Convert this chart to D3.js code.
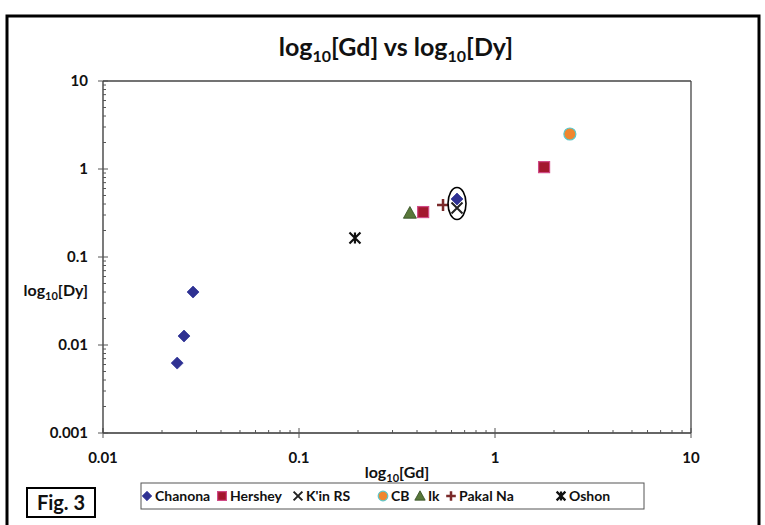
<!DOCTYPE html>
<html><head><meta charset="utf-8">
<script src="https://cdn.jsdelivr.net/npm/d3@7"></script>
<style>
html,body{margin:0;padding:0;background:#fff;}
svg{display:block;font-family:Lato,"Open Sans",sans-serif;}
</style></head>
<body>
<svg id="c" width="765" height="525"></svg>
<script>
// ---- data ----
const seriesNames = ["Chanona","Hershey","K'in RS","CB","Ik","Pakal Na","Oshon"];
const chanonaGd = [0.0288, 0.0259, 0.0239, 0.64];
const chanonaDy = [0.040, 0.01265, 0.00623, 0.456];
const hersheyGd = [0.43, 1.78];
const hersheyDy = [0.324, 1.05];
const kinGd = [0.64];
const kinDy = [0.36];
const cbGd = [2.41];
const cbDy = [2.5];
const ikGd = [0.368];
const ikDy = [0.316];
const pakalGd = [0.543];
const pakalDy = [0.39];
const oshonGd = [0.193];
const oshonDy = [0.164];
const xTickLabels = ["0.01","0.1","1","10"];
const yTickLabels = ["0.001","0.01","0.1","1","10"];

const series = [
  {name:"Chanona", gd:chanonaGd, dy:chanonaDy, shape:"diamond", fill:"#2f3192", stroke:"#3a3f9e"},
  {name:"Hershey", gd:hersheyGd, dy:hersheyDy, shape:"square", fill:"#a3172e", stroke:"#d04a86"},
  {name:"K'in RS", gd:kinGd, dy:kinDy, shape:"x", fill:"none", stroke:"#222"},
  {name:"CB", gd:cbGd, dy:cbDy, shape:"circle", fill:"#f0862e", stroke:"#5cc6c8"},
  {name:"Ik", gd:ikGd, dy:ikDy, shape:"triangle", fill:"#58773a", stroke:"#2f4a1e"},
  {name:"Pakal Na", gd:pakalGd, dy:pakalDy, shape:"plus", fill:"none", stroke:"#7a2a2a"},
  {name:"Oshon", gd:oshonGd, dy:oshonDy, shape:"star", fill:"none", stroke:"#111"}
];

const svg = d3.select("#c");
const x = d3.scaleLog().domain([0.01,10]).range([103,691]);
const y = d3.scaleLog().domain([0.001,10]).range([433,81]);

// outer frame
svg.append("rect").attr("x",7).attr("y",16).attr("width",752).attr("height",520)
  .attr("fill","none").attr("stroke","#000").attr("stroke-width",3);

// title
const title = svg.append("text").attr("x",396).attr("y",56).attr("text-anchor","middle")
  .attr("font-size",25).attr("font-weight","bold").attr("fill","#111");
title.append("tspan").text("log");
title.append("tspan").attr("font-size",16).attr("dy",6).text("10");
title.append("tspan").attr("dy",-6).text("[Gd] vs log");
title.append("tspan").attr("font-size",16).attr("dy",6).text("10");
title.append("tspan").attr("dy",-6).text("[Dy]");

// plot border (top & right)
const g = svg.append("g");
g.append("line").attr("x1",x(0.01)).attr("x2",x(10)).attr("y1",y(10)).attr("y2",y(10)).attr("stroke","#444").attr("stroke-width",1.3);
g.append("line").attr("x1",x(10)).attr("x2",x(10)).attr("y1",y(10)).attr("y2",y(0.001)).attr("stroke","#444").attr("stroke-width",1.3);

// x axis
const xt = x.ticks();
g.append("line").attr("x1",x(0.01)).attr("x2",x(10)).attr("y1",y(0.001)).attr("y2",y(0.001)).attr("stroke","#333").attr("stroke-width",1.3);
xt.forEach(t=>{
  const major = Math.abs(Math.log10(t)-Math.round(Math.log10(t)))<1e-9;
  g.append("line").attr("x1",x(t)).attr("x2",x(t))
   .attr("y1",y(0.001)-(major?5:3)).attr("y2",y(0.001)+(major?5:0))
   .attr("stroke","#555").attr("stroke-width",1);
});
xTickLabels.forEach(s=>{
  g.append("text").attr("x",x(+s)).attr("y",463).attr("text-anchor","middle")
   .attr("font-size",15).attr("font-weight","bold").attr("fill","#111").text(s);
});
// y axis
const yt = y.ticks();
g.append("line").attr("x1",x(0.01)).attr("x2",x(0.01)).attr("y1",y(10)).attr("y2",y(0.001)).attr("stroke","#333").attr("stroke-width",1.3);
yt.forEach(t=>{
  const major = Math.abs(Math.log10(t)-Math.round(Math.log10(t)))<1e-9;
  g.append("line").attr("y1",y(t)).attr("y2",y(t))
   .attr("x1",x(0.01)-(major?5:0)).attr("x2",x(0.01)+(major?5:3))
   .attr("stroke","#555").attr("stroke-width",1);
});
yTickLabels.forEach(s=>{
  g.append("text").attr("x",88).attr("y",y(+s)+5).attr("text-anchor","end")
   .attr("font-size",15).attr("font-weight","bold").attr("fill","#111").text(s);
});

// axis titles
const xtitle = svg.append("text").attr("x",397).attr("y",478).attr("text-anchor","middle")
  .attr("font-size",16).attr("font-weight","bold").attr("fill","#111");
xtitle.append("tspan").text("log");
xtitle.append("tspan").attr("font-size",11).attr("dy",4).text("10");
xtitle.append("tspan").attr("dy",-4).text("[Gd]");
const ytitle = svg.append("text").attr("x",88).attr("y",296).attr("text-anchor","end")
  .attr("font-size",16).attr("font-weight","bold").attr("fill","#111");
ytitle.append("tspan").text("log");
ytitle.append("tspan").attr("font-size",11).attr("dy",4).text("10");
ytitle.append("tspan").attr("dy",-4).text("[Dy]");

// markers
function drawMarker(sel, shape, cx, cy, s, fill, stroke, big){
  const k = big ? 1 : 0.8;
  if(shape==="diamond"){
    const r=6*k;
    sel.append("path").attr("d",`M${cx},${cy-r}L${cx+r},${cy}L${cx},${cy+r}L${cx-r},${cy}Z`).attr("fill",fill).attr("stroke",stroke).attr("stroke-width",0.8);
  } else if(shape==="square"){
    const r=5.5*k;
    sel.append("rect").attr("x",cx-r).attr("y",cy-r).attr("width",2*r).attr("height",2*r).attr("fill",fill).attr("stroke",stroke).attr("stroke-width",1.2);
  } else if(shape==="circle"){
    sel.append("circle").attr("cx",cx).attr("cy",cy).attr("r",6*k).attr("fill",fill).attr("stroke",stroke).attr("stroke-width",1.2);
  } else if(shape==="triangle"){
    const r=6.5*k;
    sel.append("path").attr("d",`M${cx},${cy-r}L${cx+r},${cy+r*0.8}L${cx-r},${cy+r*0.8}Z`).attr("fill",fill).attr("stroke",stroke).attr("stroke-width",0.8);
  } else if(shape==="x"){
    const r=5.5*k;
    sel.append("path").attr("d",`M${cx-r},${cy-r}L${cx+r},${cy+r}M${cx+r},${cy-r}L${cx-r},${cy+r}`).attr("stroke",stroke).attr("stroke-width",2);
  } else if(shape==="plus"){
    const r=6*k;
    sel.append("path").attr("d",`M${cx-r},${cy}L${cx+r},${cy}M${cx},${cy-r}L${cx},${cy+r}`).attr("stroke",stroke).attr("stroke-width",2.5);
  } else if(shape==="star"){
    const r=5.5*k;
    sel.append("path").attr("d",`M${cx-r},${cy-r}L${cx+r},${cy+r}M${cx+r},${cy-r}L${cx-r},${cy+r}M${cx},${cy-r}L${cx},${cy+r}`).attr("stroke",stroke).attr("stroke-width",2.2);
  }
}
const pts = svg.append("g");
series.forEach(s=>{
  s.gd.forEach((v,i)=>{
    drawMarker(pts, s.shape, x(v), y(s.dy[i]), 1, s.fill, s.stroke, true);
  });
});

// ellipse highlighting point
svg.append("ellipse").attr("cx",x(kinGd[0])).attr("cy",(y(kinDy[0])+y(chanonaDy[3]))/2)
  .attr("rx",9).attr("ry",16).attr("fill","none").attr("stroke","#000").attr("stroke-width",1.6);

// legend
svg.append("rect").attr("x",141).attr("y",483).attr("width",503).attr("height",26)
  .attr("fill","#fff").attr("stroke","#555").attr("stroke-width",1);
const legX = [147, 222, 298, 383, 420, 451, 561];
series.forEach((s,i)=>{
  drawMarker(svg, s.shape, legX[i], 496, 1, s.fill, s.stroke, false);
  svg.append("text").attr("x",legX[i]+8).attr("y",501).attr("font-size",14).attr("font-weight","bold")
    .attr("fill","#111").text(s.name);
});

// Fig. 3 box
svg.append("rect").attr("x",27).attr("y",488).attr("width",68).attr("height",29)
  .attr("fill","#fff").attr("stroke","#000").attr("stroke-width",2);
svg.append("text").attr("x",61).attr("y",510).attr("text-anchor","middle").attr("font-size",20)
  .attr("font-weight","bold").attr("fill","#111").text("Fig. 3");
</script>
</body></html>
